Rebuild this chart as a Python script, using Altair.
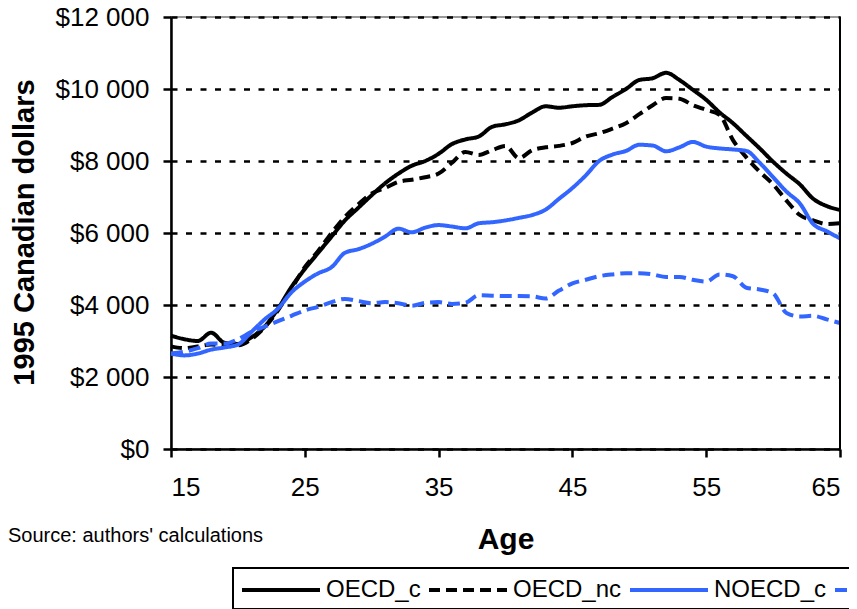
import altair as alt
import pandas as pd

ages = list(range(15, 66))

oecd_c = [3150, 3050, 3000, 3230, 2950, 2920, 3100, 3400, 3900, 4500,
          5000, 5450, 5900, 6350, 6700, 7050, 7380, 7650, 7870, 8000,
          8200, 8470, 8600, 8680, 8950, 9020, 9130, 9350, 9520, 9480,
          9520, 9550, 9560, 9780, 10000, 10250, 10300, 10450, 10250, 9980,
          9700, 9350, 9050, 8700, 8350, 7980, 7650, 7350, 6950, 6750, 6640]

oecd_nc = [2850, 2800, 2850, 2900, 2880, 2880, 3050, 3380, 3850, 4450,
           5050, 5500, 6000, 6450, 6800, 7100, 7250, 7420, 7480, 7550,
           7650, 7950, 8250, 8170, 8300, 8420, 8080, 8300, 8380, 8420,
           8500, 8680, 8770, 8900, 9050, 9300, 9550, 9750, 9730, 9550,
           9420, 9280, 8580, 8100, 7700, 7350, 6900, 6500, 6350, 6250, 6270]

noecd_c = [2650, 2600, 2650, 2760, 2820, 2900, 3250, 3600, 3900, 4350,
           4650, 4880, 5050, 5450, 5550, 5700, 5900, 6120, 6020, 6150,
           6220, 6180, 6130, 6270, 6300, 6350, 6420, 6500, 6650, 6950,
           7250, 7600, 8000, 8180, 8280, 8450, 8430, 8270, 8380, 8530,
           8400, 8350, 8320, 8280, 7950, 7550, 7150, 6820, 6250, 6050, 5850]

noecd_nc = [2650, 2700, 2800, 2930, 2930, 3050, 3250, 3400, 3550, 3700,
            3850, 3950, 4080, 4170, 4110, 4050, 4080, 4050, 3980, 4060,
            4080, 4030, 4060, 4270, 4260, 4250, 4250, 4240, 4180, 4400,
            4600, 4700, 4800, 4850, 4880, 4880, 4850, 4780, 4780, 4700,
            4650, 4850, 4800, 4480, 4430, 4320, 3780, 3680, 3700, 3600, 3500]

series_names = ["OECD_c", "OECD_nc", "NOECD_c", "NOECD_nc"]
series_values = [oecd_c, oecd_nc, noecd_c, noecd_nc]
series_colors = ["#000000", "#000000", "#3366FF", "#3366FF"]
series_dashes = [[1, 0], [11, 6], [1, 0], [12, 6]]

x_ticks = [15, 25, 35, 45, 55, 65]
y_ticks = [0, 2000, 4000, 6000, 8000, 10000, 12000]
source_text = "Source: authors' calculations"

rows = []
for name, vals in zip(series_names, series_values):
    for a, v in zip(ages, vals):
        rows.append({"Age": a, "Value": v, "Series": name})
df = pd.DataFrame(rows)

legend = alt.Legend(
    title=None, orient="none", legendX=62, legendY=551, direction="horizontal",
    symbolType="M-1,0H5", symbolSize=676, symbolStrokeWidth=4,
    labelFontSize=24, labelFont="Liberation Sans", labelColor="black",
    labelOffset=56, columnPadding=0, padding=7,
    strokeColor="black", fillColor="white", labelLimit=300,
)

lines = alt.Chart(df).mark_line(strokeWidth=4, interpolate="monotone").encode(
    x=alt.X("Age:Q",
            scale=alt.Scale(domain=[15, 65], nice=False, zero=False),
            axis=alt.Axis(values=x_ticks, title="Age", grid=False,
                          labelPadding=17, titleFontSize=30, titleFontWeight="bold",
                          titleY=99, titleBaseline="alphabetic")),
    y=alt.Y("Value:Q",
            scale=alt.Scale(domain=[0, 12000], nice=False),
            axis=alt.Axis(values=y_ticks, title="1995 Canadian dollars",
                          labelExpr="'$' + replace(format(datum.value, ','), ',', ' ')",
                          grid=True, gridColor="black", gridDash=[6, 8.5], gridWidth=2.5,
                          labelPadding=14, titleFontSize=29, titleFontWeight="bold",
                          titleAngle=270, titleX=-138, titleY=215,
                          titleAlign="center", titleBaseline="alphabetic")),
    color=alt.Color("Series:N", scale=alt.Scale(domain=series_names, range=series_colors),
                    legend=legend),
    strokeDash=alt.StrokeDash("Series:N", scale=alt.Scale(domain=series_names, range=series_dashes),
                              legend=legend),
)

right_border = alt.Chart(pd.DataFrame({"a": [0]})).mark_rule(
    color="black", strokeWidth=2).encode(x=alt.datum(65))

source = alt.Chart(pd.DataFrame({"t": [source_text]})).mark_text(
    align="left", baseline="middle", fontSize=20, font="Liberation Sans", color="black"
).encode(x=alt.value(-163), y=alt.value(519), text="t:N")

chart = alt.layer(lines, right_border, source).properties(
    width=669, height=432,
    autosize=alt.AutoSizeParams(type="none"),
    padding={"left": 163, "top": 9, "right": 9, "bottom": 160},
).configure(font="Liberation Sans").configure_view(
    stroke="#9a9a9a", strokeWidth=2
).configure_axis(
    domainColor="black", domainWidth=2.5, tickColor="black", tickWidth=2.5, tickSize=8,
    labelFont="Liberation Sans", labelFontSize=26, labelColor="black",
    titleColor="black", titleFont="Liberation Sans",
).configure_legend(strokeWidth=2)

chart.save("out.html", embed_options={"renderer": "svg", "actions": False})
